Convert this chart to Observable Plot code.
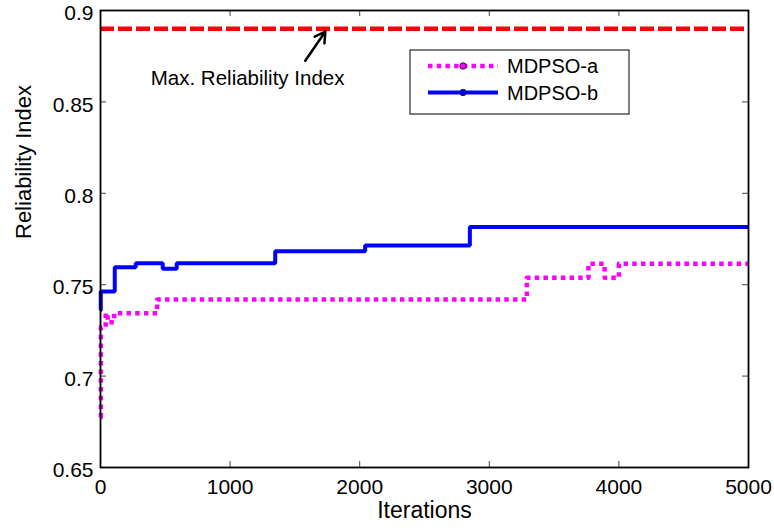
<!DOCTYPE html>
<html>
<head>
<meta charset="utf-8">
<script src="https://cdn.jsdelivr.net/npm/d3@7"></script>
<script src="https://cdn.jsdelivr.net/npm/@observablehq/plot@0.6"></script>
<style>
  html, body { margin: 0; padding: 0; background: #fff; }
  #chart svg { display: block; }
</style>
</head>
<body>
<div id="chart"></div>
<script>
// Convergence of the reliability index over the optimisation iterations
const iterA = [0, 3, 40, 55, 105, 437, 3290, 3765, 3890, 4000, 5000];
const reliabilityA = [0.6775, 0.7267, 0.7344, 0.7295, 0.7344, 0.7419, 0.7538, 0.7614, 0.7538, 0.7614, 0.7614];

const iterB = [0, 2, 110, 272, 480, 588, 1348, 2042, 2850, 5000];
const reliabilityB = [0.7359, 0.7463, 0.7596, 0.7617, 0.7587, 0.7617, 0.7683, 0.7714, 0.7816, 0.7816];

const maxReliability = 0.89;

const xTicks = [0, 1000, 2000, 3000, 4000, 5000];
const yTicks = [0.65, 0.7, 0.75, 0.8, 0.85, 0.9];

const seriesNames = ["MDPSO-a", "MDPSO-b"];
const annotationText = "Max. Reliability Index";
const annotationPos = [{x: 1135, y: 0.8628}];
const arrowPos = [{x1: 1580, y1: 0.8725, x2: 1735, y2: 0.8885}];

const seriesA = iterA.map((x, i) => ({x, y: reliabilityA[i]}));
const seriesB = iterB.map((x, i) => ({x, y: reliabilityB[i]}));

const W = 774, H = 531;
const mL = 100, mR = 26, mT = 10, mB = 64;
const innerW = W - mL - mR, innerH = H - mT - mB;
const tickLen = 6;
const fontFamily = "'Liberation Sans', Arial, Helvetica, sans-serif";

const plot = Plot.plot({
  width: W,
  height: H,
  marginLeft: mL,
  marginRight: mR,
  marginTop: mT,
  marginBottom: mB,
  style: {fontFamily, fontSize: "21px", color: "#000", background: "#fff"},
  x: {domain: [0, 5000]},
  y: {domain: [0.65, 0.9]},
  marks: [
    Plot.axisX(xTicks, {tickSize: 0, tickPadding: 12, fontSize: 21, label: null, tickFormat: d => String(d)}),
    Plot.axisY(yTicks, {tickSize: 0, tickPadding: 7, dy: 3, fontSize: 21, label: null, tickFormat: d => String(+d.toFixed(2))}),
    // inward ticks on all four sides
    Plot.tickX(xTicks, {x: d => d, stroke: "#444", strokeWidth: 1, insetTop: innerH - tickLen}),
    Plot.tickX(xTicks, {x: d => d, stroke: "#444", strokeWidth: 1, insetBottom: innerH - tickLen}),
    Plot.tickY(yTicks, {y: d => d, stroke: "#444", strokeWidth: 1, insetRight: innerW - tickLen}),
    Plot.tickY(yTicks, {y: d => d, stroke: "#444", strokeWidth: 1, insetLeft: innerW - tickLen}),
    Plot.ruleY([maxReliability], {stroke: "#ff0000", strokeWidth: 4.5, strokeDasharray: "14,4"}),
    Plot.line(seriesB, {x: "x", y: "y", curve: "step-after", stroke: "#0000ff", strokeWidth: 4, strokeLinejoin: "miter", strokeLinecap: "butt"}),
    Plot.line(seriesA, {x: "x", y: "y", curve: "step-after", stroke: "#ff00ff", strokeWidth: 4.5, strokeDasharray: "4.5,4.2", strokeLinecap: "butt"}),
    Plot.arrow(arrowPos, {x1: "x1", y1: "y1", x2: "x2", y2: "y2", stroke: "#000", strokeWidth: 2.5, headLength: 11}),
    Plot.text(annotationPos, {x: "x", y: "y", text: () => annotationText, fontSize: 20.5, fill: "#000"}),
    Plot.text(["Iterations"], {frameAnchor: "bottom", dy: 50, text: d => d, fontSize: 23, fill: "#000"}),
    Plot.text(["Reliability Index"], {frameAnchor: "left", dx: -77, rotate: -90, text: d => d, fontSize: 22, fill: "#000"}),
    Plot.frame({stroke: "#000", strokeWidth: 1.8})
  ]
});

// legend box in the upper right of the plot area
const svg = d3.select(plot);
const lg = svg.append("g").attr("font-family", fontFamily).attr("text-anchor", "start");
lg.append("rect").attr("x", 410).attr("y", 50).attr("width", 219).attr("height", 64)
  .attr("fill", "#fff").attr("stroke", "#000").attr("stroke-width", 1);
const rows = [
  {name: seriesNames[0], color: "#ff00ff", dash: "4.5,4.2", w: 4.5, y: 66},
  {name: seriesNames[1], color: "#0000ff", dash: null, w: 4, y: 92.5}
];
rows.forEach(r => {
  lg.append("line").attr("x1", 428).attr("x2", 498).attr("y1", r.y).attr("y2", r.y)
    .attr("stroke", r.color).attr("stroke-width", r.w).attr("stroke-dasharray", r.dash);
  lg.append("circle").attr("cx", 463).attr("cy", r.y).attr("r", 3.2)
    .attr("fill", r.color).attr("stroke", "#222").attr("stroke-width", 1);
  lg.append("text").attr("x", 507).attr("y", r.y + 7).attr("font-size", 20).attr("fill", "#000").text(r.name);
});

document.getElementById("chart").appendChild(plot);
</script>
</body>
</html>
